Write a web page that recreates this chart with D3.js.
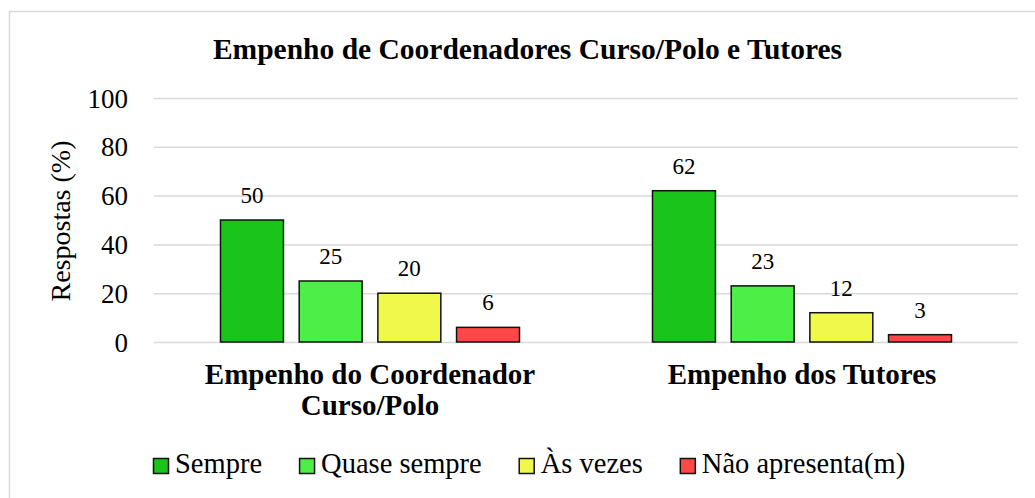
<!DOCTYPE html>
<html>
<head>
<meta charset="utf-8">
<script src="https://cdn.jsdelivr.net/npm/d3@7"></script>
<style>
  body { margin: 0; background: #fff; }
  svg text { font-family: "Liberation Serif", "Times New Roman", serif; fill: #000; }
</style>
</head>
<body>
<svg></svg>
<script>
// chart data
const categories = [["Empenho do Coordenador", "Curso/Polo"], ["Empenho dos Tutores"]];
const series = ["Sempre", "Quase sempre", "Às vezes", "Não apresenta(m)"];
const coordValues = [50, 25, 20, 6];
const tutorValues = [62, 23, 12, 3];
const yTicks = [0, 20, 40, 60, 80, 100];
const colors = ["#1ac41a", "#4cef46", "#f0f84a", "#ff4848"];

const width = 1035;
const height = 498;
const margin = {top: 98, right: 17, bottom: 156, left: 154};
const graphWidth = width - margin.left - margin.right;
const graphHeight = height - margin.top - margin.bottom;

const rows = [coordValues, tutorValues];
const data = categories.map((c, i) => ({
  key: i,
  label: c,
  values: series.map((s, j) => ({series: s, value: rows[i][j], color: colors[j]}))
}));

const svg = d3.select("svg")
  .attr("width", width)
  .attr("height", height);

// outer chart frame (runs off right/bottom like the original)
svg.append("rect")
  .attr("x", 9.5).attr("y", 11.5)
  .attr("width", width).attr("height", height)
  .attr("fill", "none")
  .attr("stroke", "#d9d9d9")
  .attr("stroke-width", 1.5);

svg.append("text")
  .text("Empenho de Coordenadores Curso/Polo e Tutores")
  .attr("x", 527.5).attr("y", 59)
  .attr("text-anchor", "middle")
  .attr("font-weight", "bold")
  .attr("font-size", 29.5);

const graph = svg.append("g")
  .attr("transform", `translate(${margin.left}, ${margin.top})`);

const xScale = d3.scaleBand()
  .domain(data.map(d => d.key))
  .range([0, graphWidth]);

const groupSpan = 299;
const xInner = d3.scaleBand()
  .domain(series)
  .range([(xScale.bandwidth() - groupSpan) / 2, (xScale.bandwidth() + groupSpan) / 2])
  .paddingInner(0.2);

const yScale = d3.scaleLinear()
  .domain([0, 100])
  .range([graphHeight, 0]);

const yAxis = d3.axisLeft(yScale)
  .tickValues(yTicks)
  .tickSize(-graphWidth)
  .tickPadding(26);

const yAxisGroup = graph.append("g").call(yAxis);
yAxisGroup.select(".domain").remove();
yAxisGroup.selectAll(".tick line")
  .attr("stroke", "#d9d9d9")
  .attr("stroke-width", 1.5);
yAxisGroup.selectAll("text")
  .attr("font-size", 27)
  .attr("dy", "0.34em");

svg.append("text")
  .text("Respostas (%)")
  .attr("transform", `translate(70, 221) rotate(-90)`)
  .attr("text-anchor", "middle")
  .attr("font-size", 28);

const groups = graph.selectAll(".group")
  .data(data)
  .enter().append("g")
    .attr("class", "group")
    .attr("transform", d => `translate(${xScale(d.key)}, 0)`);

groups.selectAll("rect")
  .data(d => d.values)
  .enter().append("rect")
    .attr("x", d => xInner(d.series))
    .attr("y", d => yScale(d.value))
    .attr("width", xInner.bandwidth())
    .attr("height", d => graphHeight - yScale(d.value))
    .attr("fill", d => d.color)
    .attr("stroke", "#111")
    .attr("stroke-width", 1.5);

groups.selectAll(".val")
  .data(d => d.values)
  .enter().append("text")
    .attr("class", "val")
    .text(d => d.value)
    .attr("x", d => xInner(d.series) + xInner.bandwidth() / 2)
    .attr("y", d => yScale(d.value) - 17)
    .attr("text-anchor", "middle")
    .attr("font-size", 23);

// category labels
groups.append("text")
  .attr("text-anchor", "middle")
  .attr("font-weight", "bold")
  .attr("font-size", 29)
  .selectAll("tspan")
  .data(d => d.label)
  .enter().append("tspan")
    .text(d => d)
    .attr("x", xScale.bandwidth() / 2)
    .attr("y", (d, i) => graphHeight + 42 + i * 31);

// legend, laid out left to right from measured text widths
const legend = svg.append("g")
  .attr("transform", "translate(153, 458)");
const items = legend.selectAll("g")
  .data(series)
  .enter().append("g");
items.append("rect")
  .attr("x", 0.5).attr("y", 0.5)
  .attr("width", 15).attr("height", 15)
  .attr("fill", (d, i) => colors[i])
  .attr("stroke", "#111")
  .attr("stroke-width", 1.5);
items.append("text")
  .text(d => d)
  .attr("x", 22)
  .attr("y", 15)
  .attr("font-size", 28.5);

let cursor = 0;
items.each(function() {
  const item = d3.select(this);
  item.attr("transform", `translate(${cursor}, 0)`);
  cursor += 22 + item.select("text").node().getComputedTextLength() + 37;
});
</script>
</body>
</html>
